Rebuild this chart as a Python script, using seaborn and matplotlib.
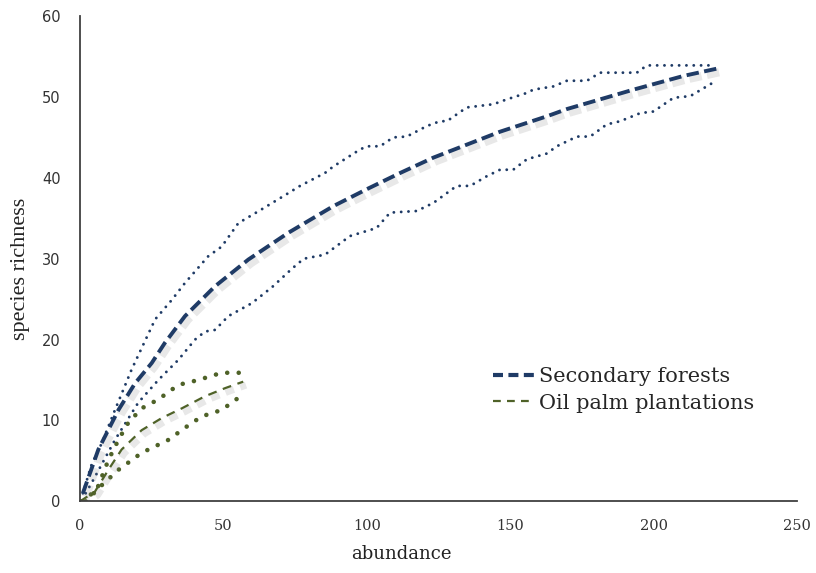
import numpy as np
import pandas as pd
import seaborn as sns
import matplotlib.pyplot as plt
import matplotlib.patheffects as pe
from matplotlib.lines import Line2D

# rarefaction curves

sf_x_upper = [1, 1.7, 4, 7.6, 12.2, 18, 26.2, 32, 36.6, 44.7, 49.4, 55.2, 63.3, 72.6, 76.7, 85.4,
              88.3, 97.6, 100, 104.6, 109.2, 113.9, 120.9, 125.5, 127.9, 134.8, 144.1, 148.8,
              155.8, 158, 165, 169.7, 176.7, 181.3, 194.1, 197.6, 220.8]
sf_y_upper = [1, 1.8, 4.5, 7.2, 11.3, 16.3, 22.5, 24.9, 27, 30.3, 31.5, 34.4, 36.1, 38.1, 39, 40.6,
              41.4, 43.5, 43.9, 43.9, 45, 45.1, 46.4, 47, 47, 48.7, 49.1, 49.7,
              50.5, 50.9, 51.3, 52, 52, 53, 53, 53.9, 53.9]

sf_x_mean = [1, 6.4, 13.4, 19.2, 25, 29.6, 36.6, 47.1, 58.7, 72.6, 88.3, 100, 111.6, 123.2,
             134.8, 146.4, 162.7, 169.7, 192.9, 210.4, 222]
sf_y_mean = [1, 6.4, 11.3, 14.6, 17.1, 19.6, 22.9, 26.6, 29.9, 33.2, 36.5, 38.6, 40.6, 42.5,
             44.1, 45.7, 47.6, 48.5, 50.9, 52.6, 53.5]

sf_x_lower = [2, 4.1, 12.2, 20.3, 27.3, 34.3, 40.1, 43.6, 47.1, 51.7, 59.9, 67, 74, 78, 85.4,
              94.1, 103.4, 108.1, 117.4, 123.2, 131.3, 136, 141.8, 146.4, 151, 155.8, 162.7,
              166.2, 173.2, 177.8, 183.6, 188.3, 195.3, 199.9, 206.9, 212.7, 220.8]
sf_y_lower = [1, 2.3, 7.6, 12.2, 15, 17.5, 20, 21, 21.2, 22.9, 24.5, 26.5, 28.8, 30, 30.5,
              32.8, 33.8, 35.7, 35.9, 36.9, 39, 39, 40.2, 41, 41, 42.3, 43,
              43.9, 45.1, 45.1, 46.6, 47, 48, 48.2, 49.9, 50.1, 51.8]

op_x_upper = [0.6, 5.8, 9.9, 13.4, 16.8, 21.5, 27.3, 34.3, 41.2, 49.4, 55.8]
op_y_upper = [0, 1.4, 5.1, 7.6, 9.7, 11.5, 12.6, 14.4, 15, 15.9, 15.9]

op_x_mean = [0, 5.2, 9.9, 14.5, 21.5, 28.5, 35.5, 43.6, 50.6, 56.9]
op_y_mean = [0, 1.2, 3.9, 6.4, 8.8, 10.3, 11.5, 13, 14, 14.8]

op_x_lower = [2, 7.6, 13.4, 21.5, 30.8, 36.6, 42.4, 49.4, 55.2]
op_y_lower = [0, 2.0, 3.9, 6.0, 7.6, 9.1, 10.5, 11.3, 12.8]

blue = "#1f3b66"
green = "#4f6228"

sns.set_style("white")
plt.rcParams['font.family'] = ['DejaVu Sans']

fig = plt.figure(figsize=(8.16, 5.73), dpi=100)
ax = fig.add_axes([0.098, 0.125, 0.879, 0.847])

dot = dict(dash_capstyle="round", estimator=None, sort=False, ax=ax)

# confidence bounds (dotted)
sns.lineplot(x=sf_x_upper, y=sf_y_upper, color=blue, lw=2.1, linestyle=(0, (0.01, 2.5)), **dot)
sns.lineplot(x=sf_x_lower, y=sf_y_lower, color=blue, lw=2.1, linestyle=(0, (0.01, 2.5)), **dot)
sns.lineplot(x=op_x_upper, y=op_y_upper, color=green, lw=3.3, linestyle=(0, (0.01, 2.5)), **dot)
sns.lineplot(x=op_x_lower, y=op_y_lower, color=green, lw=3.3, linestyle=(0, (0.01, 2.5)), **dot)

# mean curves (dashed, soft shadow)
sns.lineplot(x=sf_x_mean, y=sf_y_mean, ax=ax, sort=False, estimator=None, color=blue,
             lw=2.8, linestyle=(0, (3.2, 1.4)))
ax.lines[-1].set_path_effects([pe.SimpleLineShadow(offset=(2, -2.5), shadow_color="gray",
                                                   alpha=0.18, linewidth=6), pe.Normal()])
sns.lineplot(x=op_x_mean, y=op_y_mean, ax=ax, sort=False, estimator=None, color=green,
             lw=1.6, linestyle=(0, (4, 3)))
ax.lines[-1].set_path_effects([pe.SimpleLineShadow(offset=(2, -2.5), shadow_color="gray",
                                                   alpha=0.18, linewidth=5), pe.Normal()])

ax.set_xlim(0, 250)
ax.set_ylim(0, 60)
ax.set_xticks([0, 50, 100, 150, 200, 250])
ax.set_yticks([0, 10, 20, 30, 40, 50, 60])
ax.tick_params(axis="both", length=0, colors="#333333")
ax.tick_params(axis="y", labelsize=10.5, pad=14)
ax.tick_params(axis="x", labelsize=10.5, pad=13)
for lab in ax.get_xticklabels():
    lab.set_family("DejaVu Serif")
sns.despine(ax=ax)
for s in ["left", "bottom"]:
    ax.spines[s].set_color("#404040")
    ax.spines[s].set_linewidth(1.3)

ax.set_xlabel("abundance", family="DejaVu Serif", fontsize=13, color="#222222")
ax.xaxis.set_label_coords(0.448, -0.09)
ax.set_ylabel("species richness", family="Liberation Serif", fontsize=16, color="#222222")
ax.yaxis.set_label_coords(-0.069, 0.48)

handles = [Line2D([], [], color=blue, lw=3, linestyle=(0, (2.4, 1.3))),
           Line2D([], [], color=green, lw=1.6, linestyle=(0, (3.5, 2.8)))]
ax.legend(handles, ["Secondary forests", "Oil palm plantations"], frameon=False,
          loc="upper left", bbox_to_anchor=(0.55, 0.315), handlelength=1.95, handletextpad=0.25,
          labelspacing=0.35, prop={"family": "DejaVu Serif", "size": 15})

plt.savefig("out.png", dpi=100)
